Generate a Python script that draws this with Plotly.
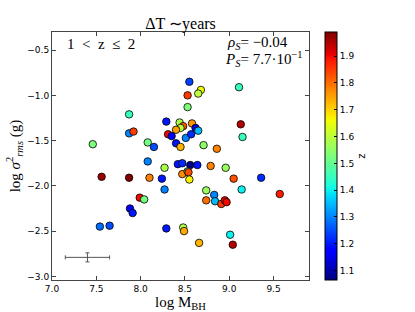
import plotly.graph_objects as go
import numpy as np

# ---- data ----
log_mbh = [8.55, 9.11, 8.68, 8.65, 8.53, 8.53, 7.87, 8.29, 8.44, 8.48,
           8.58, 8.45, 8.40, 8.62, 8.65, 9.13, 9.15, 7.87, 7.92, 8.31,
           8.35, 8.51, 8.57, 7.46, 8.08, 8.15, 8.40, 8.45, 8.71, 8.86,
           8.08, 8.27, 8.42, 8.47, 8.56, 8.64, 8.79, 8.96, 8.47, 8.53,
           8.54, 8.55, 9.05, 9.36, 7.56, 7.87, 8.10, 8.24, 8.27, 8.74,
           8.83, 9.14, 9.57, 7.99, 8.04, 8.74, 8.84, 8.91, 8.95, 8.97,
           7.88, 7.91, 7.54, 7.65, 8.29, 8.48, 8.49, 9.01, 8.66, 9.04]
log_sigma = [-0.85, -0.91, -0.94, -0.98, -1.00, -1.13, -1.21, -1.29, -1.30, -1.34,
             -1.31, -1.36, -1.38, -1.36, -1.39, -1.32, -1.46, -1.42, -1.40, -1.43,
             -1.45, -1.47, -1.43, -1.54, -1.52, -1.57, -1.53, -1.57, -1.55, -1.59,
             -1.73, -1.80, -1.76, -1.75, -1.77, -1.77, -1.78, -1.80, -1.87, -1.84,
             -1.85, -1.93, -1.92, -1.91, -1.90, -1.91, -1.91, -1.92, -2.04, -2.05,
             -2.10, -2.04, -2.09, -2.13, -2.15, -2.16, -2.17, -2.20, -2.16, -2.18,
             -2.25, -2.30, -2.45, -2.44, -2.47, -2.46, -2.50, -2.54, -2.63, -2.65]
redshift = [1.24, 1.45, 1.66, 1.60, 1.85, 1.53, 1.45, 1.20, 1.58, 1.82,
            1.76, 1.60, 1.75, 1.15, 1.35, 1.95, 1.45, 1.30, 1.85, 1.90,
            1.18, 1.30, 1.22, 1.53, 1.52, 1.25, 1.20, 1.73, 1.55, 1.78,
            1.30, 1.58, 1.20, 1.22, 1.07, 1.20, 1.78, 1.56, 1.77, 1.50,
            1.83, 1.67, 1.83, 1.22, 1.97, 1.99, 1.78, 1.20, 1.30, 1.56,
            1.30, 1.40, 1.88, 1.90, 1.52, 1.80, 1.35, 1.85, 1.90, 1.90,
            1.18, 1.20, 1.28, 1.25, 1.20, 1.58, 1.74, 1.40, 1.73, 1.95]
cbar_ticks = [1.1, 1.2, 1.3, 1.4, 1.5, 1.6, 1.7, 1.8, 1.9]
err_x = [7.4]
err_y = [-2.79]
err_dx = [0.25]
err_dy = [0.05]

# matplotlib 'jet' colormap
def jet(t):
    r = np.interp(t, [0, 0.35, 0.66, 0.89, 1], [0, 0, 1, 1, 0.5])
    g = np.interp(t, [0, 0.125, 0.375, 0.64, 0.91, 1], [0, 0, 1, 1, 0, 0])
    b = np.interp(t, [0, 0.11, 0.34, 0.65, 1], [0.5, 1, 1, 0, 0])
    return "rgb(%d,%d,%d)" % (round(r * 255), round(g * 255), round(b * 255))

stops = sorted(set([0, 0.11, 0.125, 0.34, 0.35, 0.375, 0.5, 0.64, 0.65, 0.66, 0.89, 0.91, 1]))
jet_scale = [[s, jet(s)] for s in stops]

fig = go.Figure()
fig.add_trace(go.Scatter(
    x=log_mbh, y=log_sigma, mode="markers",
    marker=dict(size=7.5, color=redshift, colorscale=jet_scale, cmin=1.065, cmax=1.99,
                line=dict(color="black", width=0.8),
                colorbar=dict(thickness=12, len=1, lenmode="fraction", y=0.5, yanchor="middle",
                              x=1.062, xanchor="left", xpad=0, ypad=0,
                              outlinecolor="black", outlinewidth=1,
                              tickvals=cbar_ticks, ticks="inside", ticklen=3, tickcolor="black",
                              tickfont=dict(family="DejaVu Sans", size=9, color="black"),
                              title=dict(text="z", side="right",
                                         font=dict(family="DejaVu Sans", size=10, color="black")))),
    showlegend=False))

fig.add_trace(go.Scatter(
    x=err_x, y=err_y, mode="markers", marker=dict(size=0.1, color="#555"),
    error_x=dict(type="data", array=err_dx, color="#555", thickness=1, width=2),
    error_y=dict(type="data", array=err_dy, color="#555", thickness=1, width=2),
    showlegend=False))

axis_common = dict(showgrid=False, zeroline=False, showline=True, linecolor="#444", linewidth=1,
                   mirror="ticks", ticks="inside", ticklen=4, tickcolor="#444",
                   tickfont=dict(family="DejaVu Sans", size=9, color="black"))
fig.update_xaxes(range=[7.0, 9.9], tickvals=[7.0, 7.5, 8.0, 8.5, 9.0, 9.5], tickformat=".1f",
                 **axis_common)
fig.update_yaxes(range=[-3.04, -0.3], tickvals=[-3.0, -2.5, -2.0, -1.5, -1.0, -0.5], tickformat=".1f",
                 **axis_common)

serif = "Liberation Serif"
fig.update_layout(
    width=415, height=312,
    margin=dict(l=52, r=106, t=32, b=32),
    paper_bgcolor="white", plot_bgcolor="white",
    title=dict(text="ΔT ∼years", x=0.435, xanchor="center", y=0.925, yanchor="middle",
               font=dict(family=serif, size=16, color="black")),
    annotations=[
        dict(text="1  &lt;  z  ≤  2", xref="paper", yref="paper", x=0.05, y=0.952,
             xanchor="left", yanchor="middle", showarrow=False,
             font=dict(family=serif, size=15, color="black")),
        dict(text="<i>ρ</i><sub><i>S</i></sub>= −0.04", xref="paper", yref="paper", x=0.925, y=0.956,
             xanchor="right", yanchor="middle", showarrow=False,
             font=dict(family=serif, size=15, color="black")),
        dict(text="<i>P</i><sub><i>S</i></sub>= 7.7·10<sup>−1</sup>", xref="paper", yref="paper",
             x=0.984, y=0.89, xanchor="right", yanchor="middle", showarrow=False,
             font=dict(family=serif, size=15, color="black")),
        dict(text="log M<sub>BH</sub>", xref="paper", yref="paper", x=0.5, y=-0.05,
             xanchor="center", yanchor="top", showarrow=False,
             font=dict(family=serif, size=15, color="black")),
        dict(text="log <i>σ</i><sup>2</sup><sub><i>rms</i></sub> (g)", xref="paper", yref="paper",
             x=-0.1, y=0.5, xanchor="right", yanchor="middle", textangle=-90, showarrow=False,
             font=dict(family=serif, size=15, color="black")),
    ],
)

fig.write_html("out.html", config={"displayModeBar": False},
               post_script="document.body.style.margin='0px';")
